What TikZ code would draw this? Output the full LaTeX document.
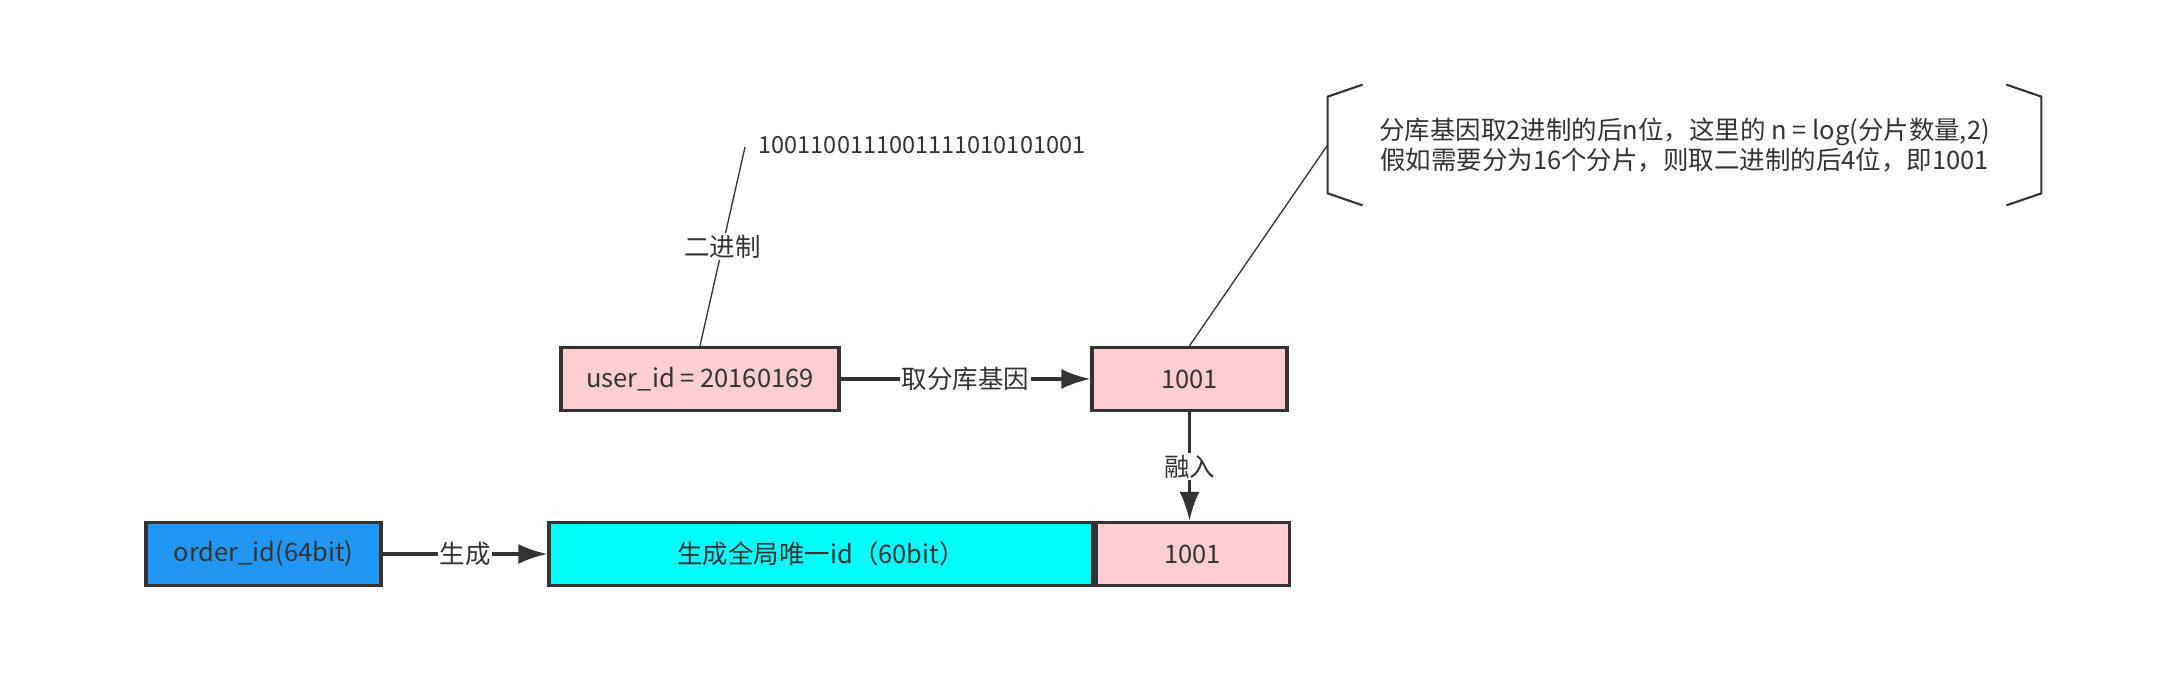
\documentclass[tikz,border=0pt]{standalone}
\usepackage{fontspec}
\setmainfont{Noto Sans CJK SC}
\usetikzlibrary{arrows.meta, positioning}
\definecolor{boxline}{HTML}{333333}
\definecolor{genepink}{HTML}{FFCDD2}
\definecolor{orderblue}{HTML}{2196F3}
\definecolor{uidcyan}{HTML}{00FFFF}
\tikzset{
  idbox/.style={draw=boxline,line width=1.9pt,minimum height=1.26cm,inner sep=0pt,text=boxline},
  flow/.style={->,draw=boxline,line width=1.9pt},
  flowlabel/.style={fill=white,text=boxline,inner sep=1pt},
  thinline/.style={draw=boxline,line width=0.75pt},
  bracket/.style={draw=boxline,line width=1.2pt}
}

\begin{document}
\begin{tikzpicture}[>={Latex[length=0.58cm,width=0.4cm]},scale=1.0,font=\fontsize{14.5pt}{17pt}\selectfont]
  \useasboundingbox[fill=white](0,0)rectangle(43.2,13.6);
  \node[idbox,fill=genepink,minimum width=5.56cm](user) at (14.0,6.02) {user\_id = 20160169};
  \node[idbox,fill=genepink,minimum width=3.9cm](gene) at (23.79,6.02) {1001};
  \node[idbox,fill=orderblue,minimum width=4.7cm](order) at (5.27,2.52) {order\_id(64bit)};
  \node[idbox,fill=uidcyan,minimum width=10.88cm](uid) at (16.42,2.52) {生成全局唯一id（60bit）};
  \node[idbox,fill=genepink,minimum width=3.86cm,anchor=west](tail) at (uid.east) {1001};
  \node[text=boxline,font=\fontsize{13.4pt}{16pt}\selectfont](bin) at (18.44,10.7) {1001100111001111010101001};
  \coordinate (binend) at (14.9,10.66);
  \node[text=boxline,align=center,minimum width=14.26cm,minimum height=2.4cm](note) at (33.69,10.7)
    {分库基因取2进制的后n位，这里的 n = log(分片数量,2)\\假如需要分为16个分片，则取二进制的后4位，即1001};
  \foreach \s/\d in {west/1,east/-1}
  {
    \draw[bracket]([xshift=\d*0.7cm]note.north \s)--([yshift=-0.24cm]note.north \s)--([yshift=0.24cm]note.south \s)--([xshift=\d*0.7cm]note.south \s);
  }
  \draw[thinline](user.north)--node[flowlabel]{二进制}(binend);
  \draw[thinline](gene.north)--(note.west);
  \draw[flow](user)--node[flowlabel]{取分库基因}(gene);
  \draw[flow](order)--node[flowlabel]{生成}(uid);
  \draw[flow](gene.south)--node[flowlabel]{融入}(gene.south|-tail.north);
\end{tikzpicture}
\end{document}
